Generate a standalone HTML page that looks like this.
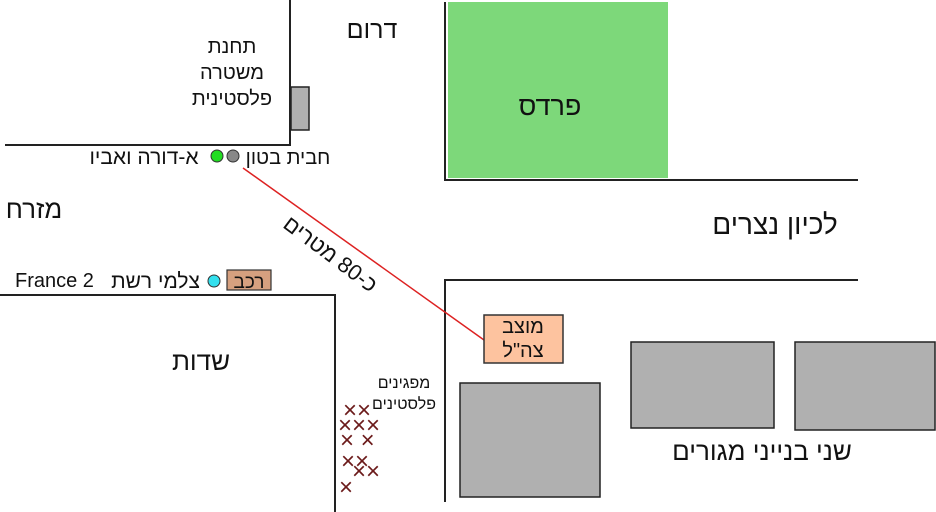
<!DOCTYPE html>
<html><head><meta charset="utf-8"><style>
html,body{margin:0;padding:0;background:#fff;}
svg{display:block;}
text{font-family:"Liberation Sans","DejaVu Sans",sans-serif;fill:#111;}
</style></head><body>
<svg width="936" height="512" viewBox="0 0 936 512" xmlns="http://www.w3.org/2000/svg">
<rect x="448" y="2" width="220" height="176" fill="#7dd87a"/>
<g stroke="#222" stroke-width="2" fill="none">
<polyline points="5,145 290,145 290,0"/>
<polyline points="445,2 445,180 858,180"/>
<polyline points="0,295 335,295 335,512"/>
<polyline points="858,280 445,280 445,502"/>
</g>
<rect x="291" y="87" width="18" height="43" fill="#b0b0b0" stroke="#222" stroke-width="1.5"/>
<rect x="460" y="383" width="140" height="114" fill="#b0b0b0" stroke="#222" stroke-width="1.5"/>
<rect x="631" y="342" width="143" height="86" fill="#b0b0b0" stroke="#222" stroke-width="1.5"/>
<rect x="795" y="342" width="140" height="88" fill="#b0b0b0" stroke="#222" stroke-width="1.5"/>
<line x1="243" y1="168" x2="484" y2="340" stroke="#dd2222" stroke-width="1.5"/>
<rect x="484" y="315" width="79" height="48" fill="#fdc39f" stroke="#333" stroke-width="1.5"/>
<rect x="227" y="270" width="44" height="20" fill="#d6a07f" stroke="#333" stroke-width="1.2"/>
<circle cx="217" cy="156" r="6" fill="#22dd22" stroke="#333" stroke-width="1"/>
<circle cx="233" cy="156" r="6" fill="#888" stroke="#333" stroke-width="1"/>
<circle cx="214" cy="281" r="6" fill="#33e0ee" stroke="#333" stroke-width="1"/>
<g font-size="24">
<text x="343" y="418" style="fill:#6b1a1a">××</text>
<text x="338" y="433" style="fill:#6b1a1a">×××</text>
<text x="340" y="448" style="fill:#6b1a1a">× ×</text>
<text x="341" y="469" style="fill:#6b1a1a">××</text>
<text x="352" y="479" style="fill:#6b1a1a">××</text>
<text x="339" y="495" style="fill:#6b1a1a">×</text>
</g>
<text x="372" y="38" font-size="25" text-anchor="middle">דרום</text>
<text x="232" y="53" font-size="20" text-anchor="middle">תחנת</text>
<text x="232" y="79" font-size="20" text-anchor="middle">משטרה</text>
<text x="232" y="105" font-size="20" text-anchor="middle">פלסטינית</text>
<text x="550" y="115" font-size="27" text-anchor="middle">פרדס</text>
<text x="288" y="164" font-size="20" text-anchor="middle">חבית בטון</text>
<text x="144" y="164" font-size="21" text-anchor="middle">א-דורה ואביו</text>
<text x="34" y="218" font-size="26" text-anchor="middle">מזרח</text>
<text x="775" y="234" font-size="28" text-anchor="middle">לכיון נצרים</text>
<text x="15" y="287" font-size="20">France 2</text>
<text x="200" y="288" font-size="21" text-anchor="end">צלמי רשת</text>
<text x="249" y="288" font-size="19" text-anchor="middle">רכב</text>
<text x="201" y="370" font-size="26" text-anchor="middle">שדות</text>
<text x="523" y="333" font-size="20" text-anchor="middle">מוצב</text>
<text x="523" y="357" font-size="20" text-anchor="middle">צה"ל</text>
<text x="404" y="388" font-size="16" text-anchor="middle">מפגינים</text>
<text x="404" y="409" font-size="16" text-anchor="middle">פלסטינים</text>
<text x="762" y="460" font-size="26" text-anchor="middle">שני בנייני מגורים</text>
<text x="0" y="0" font-size="22" text-anchor="middle" transform="translate(326,260) rotate(37)">כ-80 מטרים</text>
</svg>
</body></html>
